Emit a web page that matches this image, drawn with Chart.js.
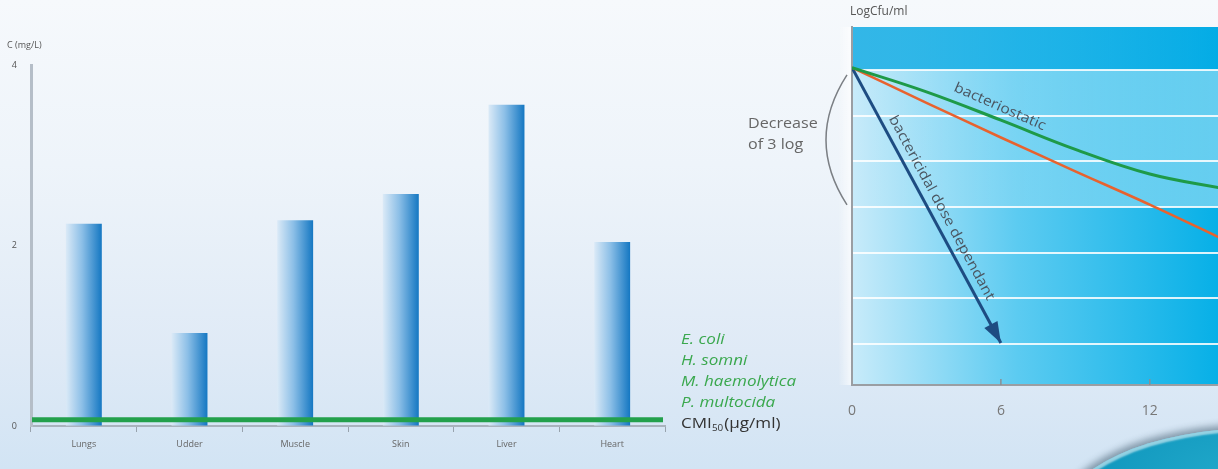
<!DOCTYPE html>
<html>
<head>
<meta charset="utf-8">
<title>Tissue concentration and kill curves</title>
<script src="https://cdn.jsdelivr.net/npm/chart.js@4.4.0/dist/chart.umd.min.js"></script>
<style>
  html, body { margin: 0; padding: 0; }
  body {
    width: 1218px; height: 469px; overflow: hidden; position: relative;
    background: linear-gradient(180deg, #f6f9fc 0%, #eef4fa 35%, #dfeaf6 75%, #d2e4f4 100%);
    font-family: "Open Sans", sans-serif;
  }
  .box { position: absolute; top: 0; height: 469px; }
  #tissueBox { left: 0; width: 820px; }
  #killBox { left: 700px; width: 518px; }
  .blob {
    position: absolute; left: 1060px; top: 428px; width: 400px; height: 182px; border-radius: 50%;
    background: radial-gradient(ellipse at 45% 30%, #22aacb 0%, #0d93bb 60%, #0a86ad 100%);
    box-shadow: -2px -4px 7px rgba(30, 60, 80, 0.45), inset 2px 3px 2px rgba(255, 255, 255, 0.55);
  }
</style>
</head>
<body>
<div class="blob"></div>
<div class="box" id="tissueBox"><canvas id="tissueChart"></canvas></div>
<div class="box" id="killBox"><canvas id="killChart"></canvas></div>
<script>
  // ---- left chart: tissue concentrations ----
  const organs = ["Lungs", "Udder", "Muscle", "Skin", "Liver", "Heart"];
  const tissueConc = [2.24, 1.03, 2.28, 2.57, 3.56, 2.04];
  const concTicks = [0, 2, 4];
  const cmiLevel = [0.07];
  const pathogens = ["E. coli", "H. somni", "M. haemolytica", "P. multocida"];

  // ---- right chart: kill curves ----
  const hours = [0, 3, 6, 9, 12, 15];
  const bacteriostatic = [6.05, 5.52, 4.90, 4.26, 3.72, 3.40];
  const timeDependent = [6.05, 5.28, 4.52, 3.78, 3.05, 2.28];
  const cidalHours = [0, 6];
  const bactericidal = [6.05, 0.02];
  const timeTicks = [0, 6, 12];
  const logGrid = [0, 1, 2, 3, 4, 5, 6];

  const GREEN = "#23a04c";
  const GREY_TXT = "#666";

  // text in the original is a bit wider than Open Sans
  function wideText(c, txt, x, y, stretch) {
    c.save();
    c.translate(x, y);
    c.scale(stretch, 1);
    c.fillText(txt, 0, 0);
    c.restore();
    return c.measureText(txt).width * stretch;
  }

  function barFill(ctx) {
    const chart = ctx.chart;
    if (!chart.chartArea) return "#4a90d0";
    const x = chart.scales.x.getPixelForValue(ctx.dataIndex);
    const g = chart.ctx.createLinearGradient(x - 18, 0, x + 18, 0);
    g.addColorStop(0, "#dbeaf7");
    g.addColorStop(0.45, "#8cbfe7");
    g.addColorStop(1, "#1477c2");
    return g;
  }

  const tissueDecor = {
    id: "tissueDecor",
    afterDatasetsDraw(chart) {
      const c = chart.ctx, ca = chart.chartArea, y = chart.scales.y;
      const py = y.getPixelForValue(cmiLevel[0]);
      c.save();
      c.strokeStyle = GREEN;
      c.lineWidth = 5;
      c.beginPath();
      c.moveTo(ca.left + 1, py);
      c.lineTo(ca.right - 2, py);
      c.stroke();

      // legend for the MIC line
      const lx = ca.right + 16;
      c.textBaseline = "middle";
      c.textAlign = "left";
      c.font = "italic 14px 'Open Sans'";
      c.fillStyle = "#3aa84e";
      pathogens.forEach((p, i) => wideText(c, p, lx, py - 80 + i * 21, 1.22));
      c.fillStyle = "#333";
      c.font = "14px 'Open Sans'";
      const ly = py + 4;
      let w = wideText(c, "CMI", lx, ly, 1.22);
      c.font = "9px 'Open Sans'";
      w += wideText(c, "50", lx + w, ly + 5, 1.1);
      c.font = "14px 'Open Sans'";
      wideText(c, "(\u00b5g/ml)", lx + w + 1, ly, 1.22);

      // axis title
      c.font = "9px 'Open Sans'";
      c.fillStyle = "#555";
      c.fillText("C (mg/L)", 7, 45);
      c.restore();
    }
  };

  new Chart(document.getElementById("tissueChart"), {
    type: "bar",
    data: {
      labels: organs,
      datasets: [{
        label: "C (mg/L)",
        data: tissueConc,
        backgroundColor: barFill,
        borderWidth: 0,
        barPercentage: 0.34,
        categoryPercentage: 1
      }]
    },
    options: {
      responsive: true,
      maintainAspectRatio: false,
      animation: false,
      layout: { padding: { top: 65, right: 155, left: 0, bottom: 0 } },
      plugins: { legend: { display: false }, tooltip: { enabled: false } },
      scales: {
        x: {
          afterFit: (s) => { s.height = 43; },
          grid: { offset: true, drawOnChartArea: false, tickLength: 6, color: "#98a3ad" },
          border: { color: "#a9b3bd", width: 2 },
          ticks: { color: GREY_TXT, font: { family: "Open Sans", size: 9 }, padding: 7 }
        },
        y: {
          min: 0, max: 4,
          afterFit: (s) => { s.width = 31; },
          afterBuildTicks: (s) => { s.ticks = concTicks.map(v => ({ value: v })); },
          grid: { drawOnChartArea: false, drawTicks: false },
          border: { color: "#b5bec8", width: 3 },
          ticks: { color: "#555", font: { family: "Open Sans", size: 9 }, padding: 14 }
        }
      }
    },
    plugins: [tissueDecor]
  });

  // ---- kill curve chart ----
  const killDecor = {
    id: "killDecor",
    beforeDraw(chart) {
      const c = chart.ctx, ca = chart.chartArea, y = chart.scales.y;
      const w = ca.right - ca.left;
      c.save();
      let g = c.createLinearGradient(ca.left, 0, ca.right, 0);
      g.addColorStop(0, "#c8ebfa");
      g.addColorStop(0.45, "#5ccbf1");
      g.addColorStop(1, "#07b0e7");
      c.fillStyle = g;
      c.fillRect(ca.left, ca.top, w, ca.bottom - ca.top);

      // top band, darker
      const y6 = y.getPixelForValue(6), y3 = y.getPixelForValue(3);
      g = c.createLinearGradient(ca.left, 0, ca.right, 0);
      g.addColorStop(0, "rgba(0,165,225,0.75)");
      g.addColorStop(1, "rgba(0,168,228,0.5)");
      c.fillStyle = g;
      c.fillRect(ca.left, ca.top, w, y6 - ca.top);

      // middle band, lighter toward the right
      g = c.createLinearGradient(ca.left, 0, ca.right, 0);
      g.addColorStop(0, "rgba(255,255,255,0.0)");
      g.addColorStop(1, "rgba(255,255,255,0.38)");
      c.fillStyle = g;
      c.fillRect(ca.left, y6, w, y3 - y6);

      // pale strip just left of the plot
      g = c.createLinearGradient(ca.left - 14, 0, ca.left, 0);
      g.addColorStop(0, "rgba(255,255,255,0)");
      g.addColorStop(1, "rgba(255,255,255,0.7)");
      c.fillStyle = g;
      c.fillRect(ca.left - 14, ca.top, 14, ca.bottom - ca.top);
      c.restore();
    },
    afterDraw(chart) {
      const c = chart.ctx, ca = chart.chartArea, x = chart.scales.x, y = chart.scales.y;
      c.save();
      // inner tick marks on the time axis
      c.strokeStyle = "#8a8f94";
      c.lineWidth = 1.5;
      timeTicks.slice(1).forEach(t => {
        const px = x.getPixelForValue(t);
        c.beginPath();
        c.moveTo(px, ca.bottom - 6);
        c.lineTo(px, ca.bottom);
        c.stroke();
      });

      // arrow head on the bactericidal line
      const pts = chart.getDatasetMeta(2).data;
      const a = pts[0], b = pts[pts.length - 1];
      const ang = Math.atan2(b.y - a.y, b.x - a.x);
      const hl = 21, hw = 7.5;
      c.fillStyle = "#1d4c82";
      c.beginPath();
      c.moveTo(b.x, b.y);
      c.lineTo(b.x - hl * Math.cos(ang) + hw * Math.sin(ang), b.y - hl * Math.sin(ang) - hw * Math.cos(ang));
      c.lineTo(b.x - hl * Math.cos(ang) - hw * Math.sin(ang), b.y - hl * Math.sin(ang) + hw * Math.cos(ang));
      c.closePath();
      c.fill();

      // decrease of 3 log bracket
      const yTop = y.getPixelForValue(6) + 5, yBot = y.getPixelForValue(3) - 2;
      const bx = ca.left - 5;
      c.strokeStyle = "#7b7f84";
      c.lineWidth = 1.5;
      c.beginPath();
      c.moveTo(bx, yTop);
      c.quadraticCurveTo(bx - 42, (yTop + yBot) / 2, bx, yBot);
      c.stroke();
      c.fillStyle = GREY_TXT;
      c.font = "14px 'Open Sans'";
      c.textAlign = "left";
      c.textBaseline = "middle";
      wideText(c, "Decrease", ca.left - 104, (yTop + yBot) / 2 - 16, 1.15);
      wideText(c, "of 3 log", ca.left - 104, (yTop + yBot) / 2 + 5, 1.15);

      // axis title
      c.font = "12px 'Open Sans'";
      c.fillStyle = "#555";
      c.fillText("LogCfu/ml", ca.left - 2, 12);

      // labels along curves
      c.fillStyle = "#4a5560";
      c.font = "14px 'Open Sans'";
      c.textAlign = "center";
      const s = chart.getDatasetMeta(0).data;
      const sa = Math.atan2(s[2].y - s[1].y, s[2].x - s[1].x);
      const t = 0.92;
      c.save();
      c.translate(s[1].x + (s[2].x - s[1].x) * t, s[1].y + (s[2].y - s[1].y) * t);
      c.rotate(sa + 0.05);
      wideText(c, "bacteriostatic", 0, -12, 1.12);
      c.restore();

      const f = 0.53;
      c.save();
      c.translate(a.x + (b.x - a.x) * f, a.y + (b.y - a.y) * f);
      c.rotate(ang);
      wideText(c, "bactericidal dose dependant", 0, -12, 1.12);
      c.restore();
      c.restore();
    }
  };

  const toXY = (xs, ys) => xs.map((v, i) => ({ x: v, y: ys[i] }));

  new Chart(document.getElementById("killChart"), {
    type: "line",
    data: {
      datasets: [
        { label: "bacteriostatic", data: toXY(hours, bacteriostatic), borderColor: "#1e9a48", borderWidth: 3, pointRadius: 0, tension: 0.4 },
        { label: "time dependent", data: toXY(hours, timeDependent), borderColor: "#e8622e", borderWidth: 2.5, pointRadius: 0, tension: 0.3 },
        { label: "bactericidal dose dependant", data: toXY(cidalHours, bactericidal), borderColor: "#1d4c82", borderWidth: 3, pointRadius: 0 }
      ]
    },
    options: {
      responsive: true,
      maintainAspectRatio: false,
      animation: false,
      layout: { padding: { top: 27, right: 0, left: 0, bottom: 0 } },
      plugins: { legend: { display: false }, tooltip: { enabled: false } },
      scales: {
        x: {
          type: "linear", min: 0, max: 14.75,
          afterFit: (s) => { s.height = 84; },
          afterBuildTicks: (s) => { s.ticks = timeTicks.map(v => ({ value: v })); },
          grid: { drawOnChartArea: false, drawTicks: false },
          border: { color: "#9a9ea3", width: 2 },
          ticks: { color: "#777", font: { family: "Open Sans", size: 14 }, padding: 18 }
        },
        y: {
          min: -0.9, max: 6.94,
          afterFit: (s) => { s.width = 152; },
          afterBuildTicks: (s) => { s.ticks = logGrid.map(v => ({ value: v })); },
          grid: { color: "rgba(255,255,255,0.85)", lineWidth: 2, drawTicks: false },
          border: { color: "#9a9ea3", width: 2 },
          ticks: { display: false }
        }
      }
    },
    plugins: [killDecor]
  });
</script>
</body>
</html>
